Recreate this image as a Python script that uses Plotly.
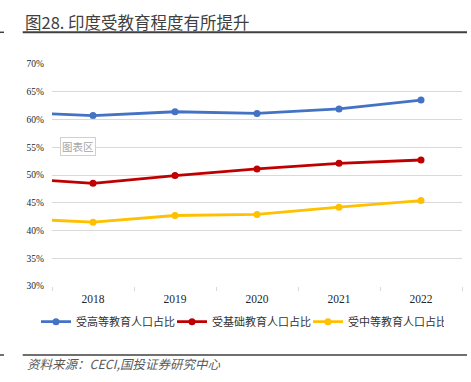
import plotly.graph_objects as go

# ---- data ----
years = ["2017", "2018", "2019", "2020", "2021", "2022"]
higher_edu = [61.3, 60.7, 61.4, 61.1, 61.9, 63.5]
basic_edu = [49.5, 48.5, 49.9, 51.1, 52.1, 52.7]
secondary_edu = [42.2, 41.5, 42.7, 42.9, 44.2, 45.4]
series_names = ["受高等教育人口占比", "受基础教育人口占比", "受中等教育人口占比"]
colors = ["#4472C4", "#C00000", "#FFC000"]
title_text = "图28. 印度受教育程度有所提升"
source_text = "资料来源：CECI,国投证券研究中心"

W, H = 471, 382
L, R, T, B = 52, 9, 64, 96
PW, PH = W - L - R, H - T - B


def px(x):
    return (x - L) / PW


def py(y):
    return (H - B - y) / PH


fig = go.Figure()
for name, vals, c in zip(series_names, [higher_edu, basic_edu, secondary_edu], colors):
    fig.add_trace(go.Scatter(
        x=years, y=vals, name=name, mode="lines+markers",
        line=dict(color=c, width=2.8), marker=dict(color=c, size=7),
        cliponaxis=True,
    ))

cjk = "Noto Sans CJK SC"
fig.update_layout(
    width=W, height=H,
    margin=dict(l=L, r=R, t=T, b=B, autoexpand=False),
    plot_bgcolor="white", paper_bgcolor="white",
    showlegend=True,
    legend=dict(orientation="h", x=px(36), xanchor="left", y=py(321.7), yanchor="middle",
                font=dict(family=cjk, size=11, color="#333333"),
                itemwidth=30, entrywidth=91, entrywidthmode="pixels",
                tracegroupgap=0, bgcolor="rgba(0,0,0,0)"),
    xaxis=dict(type="category", range=[0.5, 5.5], showgrid=False, zeroline=False,
               showline=False, ticks="outside", tickson="boundaries", ticklen=4,
               tickcolor="#d9d9d9", tickwidth=1, ticklabelstandoff=4,
               tickfont=dict(family="Liberation Serif", size=11.5, color="#262626")),
    yaxis=dict(range=[30, 70], dtick=5, ticksuffix="%", showgrid=True,
               gridcolor="#d9d9d9", gridwidth=1, zeroline=False, showline=False,
               tickfont=dict(family="Liberation Serif", size=9.5, color="#262626"),
               ticklabelstandoff=7),
)

fig.add_annotation(xref="paper", yref="paper", x=px(23), y=py(21.5), xanchor="left",
                   yanchor="middle", text=title_text, showarrow=False,
                   font=dict(family=cjk, size=16.5, color="#404040"))
fig.add_annotation(xref="paper", yref="paper", x=px(25), y=py(363.5), xanchor="left",
                   yanchor="middle", text=source_text, showarrow=False,
                   font=dict(family=cjk, size=12.5, color="#595959", style="italic"))
fig.add_annotation(xref="paper", yref="paper", x=px(78), y=py(146), xanchor="center",
                   yanchor="middle", text="图表区", showarrow=False,
                   font=dict(family=cjk, size=10.5, color="#a6a6a6"),
                   bgcolor="white", bordercolor="#d0d0d0", borderwidth=1, borderpad=1)

for (x0, x1, y, w) in [(22.7, 467, 32.3, 2), (0, 4, 32.3, 1.5), (22.7, 467, 355, 1.5), (0, 4, 355, 1.5)]:
    fig.add_shape(type="line", xref="paper", yref="paper", x0=px(x0), x1=px(x1),
                  y0=py(y), y1=py(y), line=dict(color="#404040", width=w))

fig.write_html("out.html", config={"displayModeBar": False},
               post_script="document.body.style.margin='0';")
